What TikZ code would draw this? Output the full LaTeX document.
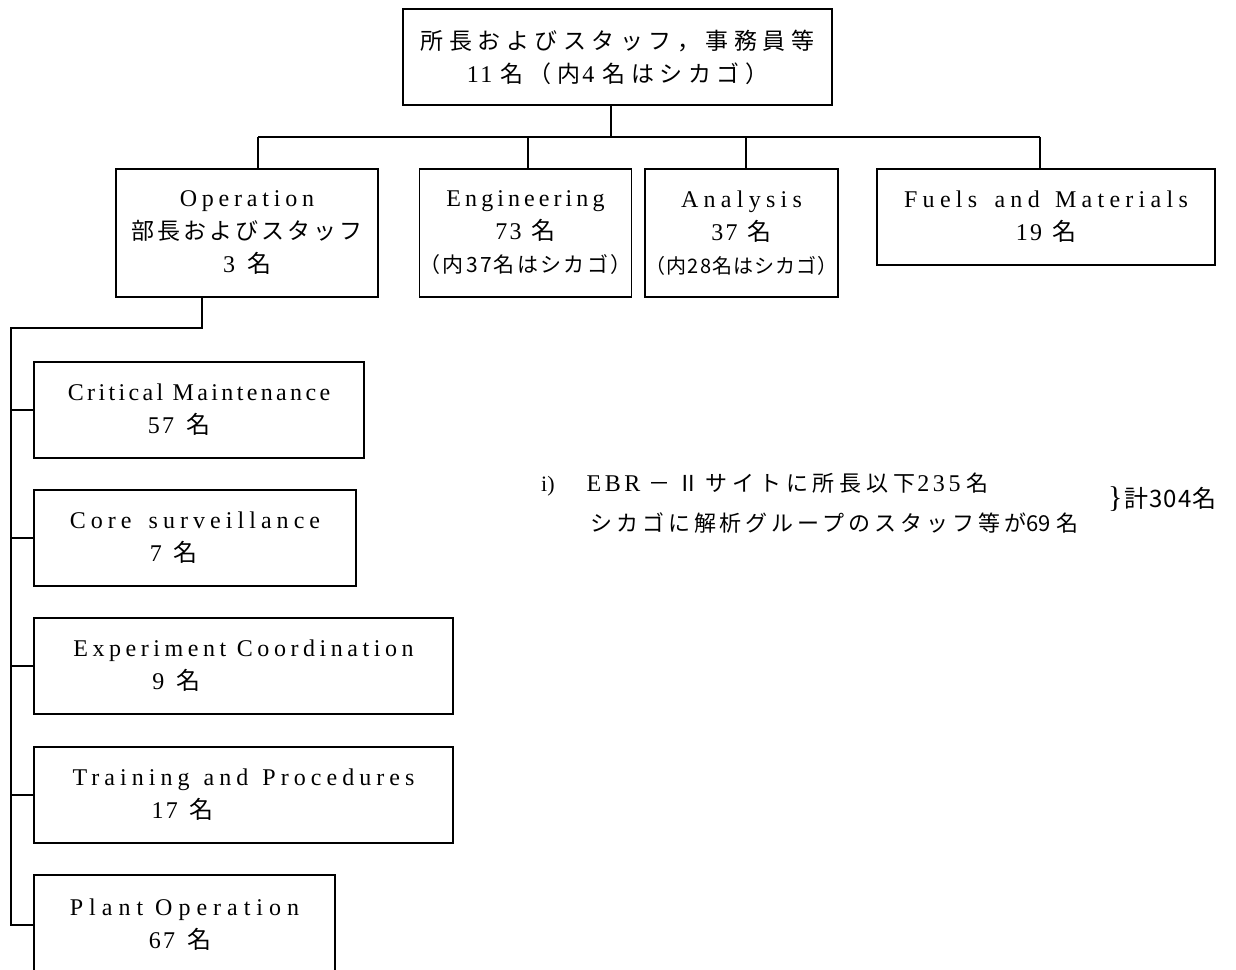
\documentclass[tikz,border=0pt]{standalone}
\usepackage{fontspec}
\setmainfont{Liberation Serif}
\newfontfamily\lat{Liberation Serif}
\newfontfamily\jp{Noto Sans CJK JP}
\newcommand\la[2]{{\lat\addfontfeatures{LetterSpace=#1}#2}}
\newcommand\ja[2]{{\jp\addfontfeatures{LetterSpace=#1}#2}}
\tikzset{
  box/.style={draw, line width=1.5pt, inner sep=0pt, align=center, font=\fontsize{24}{33}\selectfont},
  subbox/.style={box, align=left},
  conn/.style={line width=1.4pt},
  note/.style={inner sep=0pt, font=\fontsize{22}{30}\selectfont}
}
\begin{document}
\begin{tikzpicture}[x=1pt,y=-1pt]
\fill[white] (0,0) rectangle (1236,969);
\useasboundingbox (0,0) rectangle (1236,969);

% top
\node[box, minimum width=429pt, minimum height=96pt] (top) at (617.5,57)
  {\ja{24}{\fontsize{23}{33}\selectfont 所長およびスタッフ，事務員等}\\
   \la{10}{11}\hspace{8pt}\ja{24}{\fontsize{23}{33}\selectfont 名（内}\hspace{2pt}\la{0}{4}\hspace{8pt}\ja{24}{\fontsize{23}{33}\selectfont 名はシカゴ）}};

% second level
\node[box, minimum width=262pt, minimum height=128pt] (op) at (247,233)
  {\la{20}{Operation}\\ \ja{13}{\fontsize{23}{33}\selectfont 部長およびスタッフ}\\ \la{0}{3}\hspace{12pt}\ja{0}{名}};
\node[box, minimum width=211pt, minimum height=128pt] (eng) at (525.5,233)
  {\la{17}{Engineering}\\ \la{10}{73}\hspace{10pt}\ja{0}{名}\\
   {\jp\addfontfeatures{LetterSpace=11}\fontsize{21}{33}\selectfont （内37名はシカゴ）}};
\node[box, minimum width=193pt, minimum height=128pt] (ana) at (741.5,233)
  {\la{22}{Analysis}\\ \la{10}{37}\hspace{10pt}\ja{0}{名}\\
   {\jp\addfontfeatures{LetterSpace=5}\fontsize{20}{33}\selectfont （内28名はシカゴ）}};
\node[box, minimum width=338pt, minimum height=96pt] (fuel) at (1046,217)
  {\la{22}{Fuels\hspace{6pt} and\hspace{4pt} Materials}\\ \la{10}{19}\hspace{10pt}\ja{0}{名}};

% Operation sub-units
\node[subbox, minimum width=330pt, minimum height=96pt] (cm) at (199,410)
  {\la{14}{Critical Maintenance}\\ \hspace*{80pt}\la{10}{57}\hspace{12pt}\ja{0}{名}};
\node[subbox, minimum width=322pt, minimum height=96pt] (cs) at (195,538)
  {\la{21}{Core\hspace{6pt} surveillance}\\ \hspace*{80pt}\la{10}{7}\hspace{12pt}\ja{0}{名}};
\node[subbox, minimum width=419pt, minimum height=96pt] (ec) at (243.5,666)
  {\la{19}{Experiment Coordination}\\ \hspace*{79pt}\la{10}{9}\hspace{12pt}\ja{0}{名}};
\node[subbox, minimum width=419pt, minimum height=96pt] (tp) at (243.5,795)
  {\la{21}{Training\hspace{3pt} and\hspace{3pt} Procedures}\\ \hspace*{79pt}\la{10}{17}\hspace{12pt}\ja{0}{名}};
\node[subbox, minimum width=301pt, minimum height=100pt] (po) at (184.5,925)
  {\la{25}{Plant Operation}\\ \hspace*{79pt}\la{10}{67}\hspace{12pt}\ja{0}{名}};

% connectors, top level
\coordinate (b0) at (611,137);
\coordinate (b1) at (258,137);
\coordinate (b2) at (528,137);
\coordinate (b3) at (746,137);
\coordinate (b4) at (1040,137);
\draw[conn] (b0 |- top.south) -- (b0);
\draw[conn] (b1) -- (b4);
\draw[conn] (b1) -- (b1 |- op.north);
\draw[conn] (b2) -- (b2 |- eng.north);
\draw[conn] (b3) -- (b3 |- ana.north);
\draw[conn] (b4) -- (b4 |- fuel.north);

% connectors, Operation trunk
\coordinate (t0) at (202,328);
\coordinate (t) at (11,328);
\draw[conn] (t0 |- op.south) -- (t0) -- (t) -- (t |- po.west) -- (po.west);
\foreach \n in {cm,cs,ec,tp} \draw[conn] (t |- \n.west) -- (\n.west);

% note
\node[note, anchor=base west] (n1) at (541,491)
  {\la{0}{i)}\hspace{32pt}{\lat\fontsize{24}{30}\selectfont\addfontfeatures{LetterSpace=15}EBR}\hspace{8pt}\ja{0}{－}\hspace{7pt}\ja{0}{Ⅱ}\hspace{6pt}\ja{22}{サイトに所長以下}\hspace{2pt}{\lat\fontsize{24}{30}\selectfont\addfontfeatures{LetterSpace=15}235}\hspace{6pt}\ja{0}{名}};
\node[note, anchor=base west] (n2) at (590,531)
  {\ja{18}{シカゴに解析グループのスタッフ等が}\ja{0}{69}\hspace{6pt}\ja{0}{名}};
\node[note, anchor=base west] (tot) at (1108,507)
  {{\lat\fontsize{30}{30}\selectfont\}}\hspace{2pt}\ja{4}{\fontsize{24}{30}\selectfont 計304名}};
\end{tikzpicture}
\end{document}
